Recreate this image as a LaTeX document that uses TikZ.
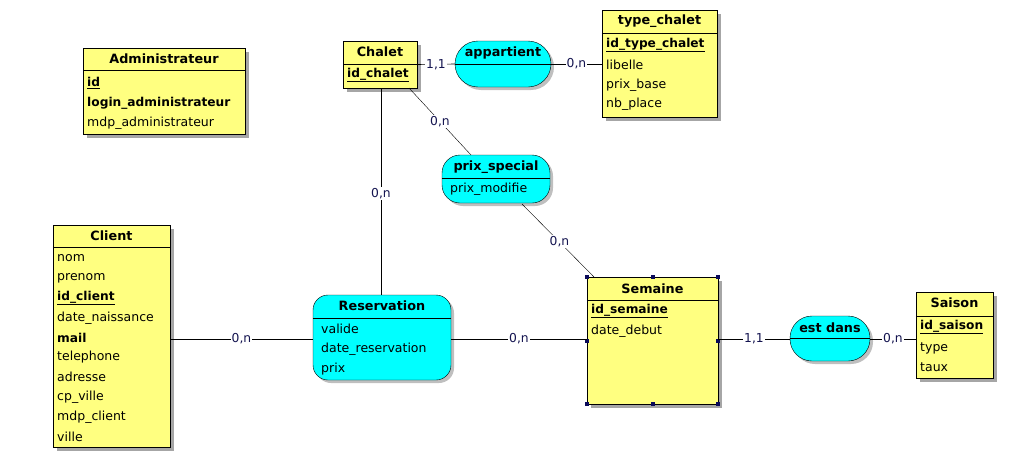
\documentclass[tikz,border=0pt]{standalone}
\usepackage{fontspec}
\setmainfont{DejaVu Sans}
\usetikzlibrary{shadows}
\definecolor{entyellow}{RGB}{255,255,128}
\definecolor{relcyan}{RGB}{0,255,255}
\definecolor{cardcol}{RGB}{20,20,80}
\definecolor{handle}{RGB}{10,10,90}
\begin{document}
\begin{tikzpicture}[x=1pt,y=-1pt,
  shad/.style={drop shadow={shadow xshift=4pt,shadow yshift=-4pt,fill=black!35,opacity=1}},
  ent/.style={draw,fill=entyellow,shad,inner sep=0pt},
  rel/.style={draw,fill=relcyan,drop shadow={shadow xshift=3pt,shadow yshift=-3pt,fill=black!25,opacity=1},inner sep=0pt},
  title/.style={font=\fontsize{12.8}{14}\selectfont\bfseries,inner sep=0pt},
  attr/.style={font=\fontsize{12.5}{14}\selectfont,anchor=west,inner sep=0pt},
  key/.style={attr,font=\fontsize{12.2}{14}\selectfont\bfseries},
  card/.style={font=\fontsize{12.3}{14}\selectfont,text=cardcol,fill=white,inner sep=1.2pt},
  conn/.style={draw,line width=0.6pt},
  thin/.style={draw,line width=0.4pt},
  hdl/.style={fill=handle,minimum size=4pt,inner sep=0pt}
]
\useasboundingbox (0,0) rectangle (1033,471);

% ---------- Administrateur
\node[ent,minimum width=162pt,minimum height=86pt] (admin) at (164,91) {};
\draw (admin.west |- 0,70) -- (admin.east |- 0,70);
\node[title] (admint) at (164,59) {Administrateur};
\node[key] (admin1) at (87,83) {\underline{id}};
\node[key] (admin2) at (87,103) {login\_administrateur};
\node[attr] (admin3) at (87,123) {mdp\_administrateur};

% ---------- Chalet
\node[ent,minimum width=74pt,minimum height=47pt] (chalet) at (380,64.5) {};
\draw (chalet.west |- 0,64) -- (chalet.east |- 0,64);
\node[title] (chalett) at (380,52) {Chalet};
\node[key] (chalet1) at (347,75) {\underline{id\_chalet}};

% ---------- type_chalet
\node[ent,minimum width=115pt,minimum height=107pt] (tc) at (659.5,63.5) {};
\draw (tc.west |- 0,33) -- (tc.east |- 0,33);
\node[title] (tct) at (659.5,21) {type\_chalet};
\node[key] (tc1) at (606,45) {\underline{id\_type\_chalet}};
\node[attr] (tc2) at (606,65) {libelle};
\node[attr] (tc3) at (606,85) {prix\_base};
\node[attr] (tc4) at (606,104) {nb\_place};

% ---------- appartient
\node[rel,minimum width=96pt,minimum height=46pt,rounded corners=23pt] (app) at (503,64) {};
\draw (app.west) -- (app.east);
\node[title] (appt) at (503,53) {appartient};

% ---------- prix_special
\node[rel,minimum width=108pt,minimum height=48pt,rounded corners=18pt] (ps) at (496,179) {};
\draw (ps.west |- 0,178) -- (ps.east |- 0,178);
\node[title] (pst) at (496,167) {prix\_special};
\node[attr] (ps1) at (450,189) {prix\_modifie};

% ---------- Client
\node[ent,minimum width=117pt,minimum height=222pt] (client) at (111.5,336) {};
\draw (client.west |- 0,247) -- (client.east |- 0,247);
\node[title] (clientt) at (111.5,236) {Client};
\node[attr] (c1) at (57,258) {nom};
\node[attr] (c2) at (57,278) {prenom};
\node[key] (c3) at (57,298) {\underline{id\_client}};
\node[attr] (c4) at (57,318) {date\_naissance};
\node[key] (c5) at (57,338) {mail};
\node[attr] (c6) at (57,357) {telephone};
\node[attr] (c7) at (57,377) {adresse};
\node[attr] (c8) at (57,397) {cp\_ville};
\node[attr] (c9) at (57,417) {mdp\_client};
\node[attr] (c10) at (57,437) {ville};

% ---------- Reservation
\node[rel,minimum width=138pt,minimum height=85pt,rounded corners=15pt] (res) at (382,337.5) {};
\draw (res.west |- 0,318) -- (res.east |- 0,318);
\node[title] (rest) at (382,306) {Reservation};
\node[attr] (r1) at (321,329) {valide};
\node[attr] (r2) at (321,349) {date\_reservation};
\node[attr] (r3) at (321,369) {prix};

% ---------- Semaine
\node[ent,minimum width=131pt,minimum height=127pt] (sem) at (652.5,340.5) {};
\draw (sem.west |- 0,300) -- (sem.east |- 0,300);
\node[title] (semt) at (652.5,289) {Semaine};
\node[key] (s1) at (591,311) {\underline{id\_semaine}};
\node[attr] (s2) at (591,331) {date\_debut};
\foreach \p/\n in {north west/h1,north/h2,north east/h3,west/h4,east/h5,south west/h6,south/h7,south east/h8}
  \node[hdl] (\n) at (sem.\p) {};

% ---------- est dans
\node[rel,minimum width=80pt,minimum height=45pt,rounded corners=22pt] (ed) at (830,338.5) {};
\draw (ed.west) -- (ed.east);
\node[title] (edt) at (830,328) {est dans};

% ---------- Saison
\node[ent,minimum width=77pt,minimum height=86pt] (sai) at (954.5,335) {};
\draw (sai.west |- 0,316) -- (sai.east |- 0,316);
\node[title] (sait) at (954.5,303) {Saison};
\node[key] (sa1) at (920,327) {\underline{id\_saison}};
\node[attr] (sa2) at (920,348) {type};
\node[attr] (sa3) at (920,367) {taux};

% ---------- connectors
\coordinate (cb) at (409,88);
\coordinate (pst1) at (471,155);
\coordinate (psb) at (522,204);
\coordinate (semtop) at (594,277);

\path[conn] (chalet.east) -- node[card] {1,1} (app.west);
\path[conn] (app.east) -- node[card] {0,n} (tc.west |- app.east);
\path[conn] (chalet.south -| 381,0) -- node[card,pos=0.51] {0,n} (res.north -| 381,0);
\path[thin] (cb) -- node[card,pos=0.5] {0,n} (pst1);
\path[thin] (psb) -- node[card,pos=0.52] {0,n} (semtop);
\path[conn] (client.east |- 0,339) -- node[card] {0,n} (res.west |- 0,339);
\path[conn] (res.east |- 0,339) -- node[card] {0,n} (sem.west |- 0,339);
\path[conn] (sem.east |- 0,339) -- node[card] {1,1} (ed.west |- 0,339);
\path[conn] (ed.east |- 0,339) -- node[card] {0,n} (sai.west |- 0,339);
\end{tikzpicture}
\end{document}
